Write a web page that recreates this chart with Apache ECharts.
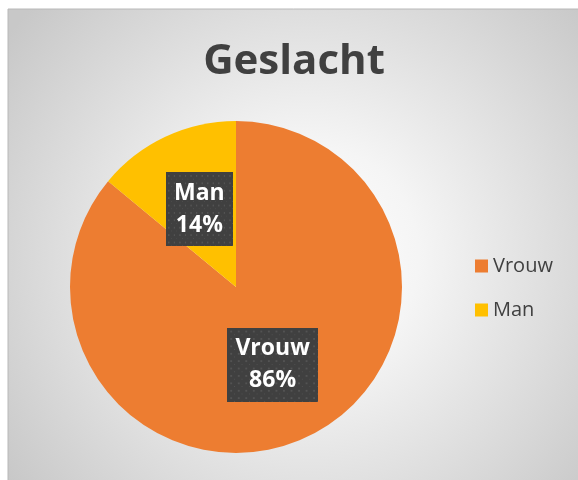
<!DOCTYPE html>
<html>
<head>
<meta charset="utf-8">
<style>
  html, body { margin: 0; padding: 0; background: #fff; }
  #chart { width: 578px; height: 480px; }
</style>
<script src="https://cdn.jsdelivr.net/npm/echarts@6/dist/echarts.min.js"></script>
</head>
<body>
<div id="chart"></div>
<script>
const titleText = 'Geslacht'
const categories = ['Vrouw', 'Man']
const values = [86, 14]
const colors = ['#ED7D31', '#FFC000']

// small dotted texture for the label boxes
const makeDots = (w, h) => {
  const c = document.createElement('canvas')
  c.width = w
  c.height = h
  const ctx = c.getContext('2d')
  ctx.fillStyle = '#404040'
  ctx.fillRect(0, 0, w, h)
  ctx.fillStyle = '#535353'
  for (let y = 3; y < h; y += 8) {
    for (let x = 3; x < w; x += 8) {
      ctx.fillRect(x, y, 2, 2)
      ctx.fillRect(x + 4, y + 4, 1, 1)
    }
  }
  return c
}

const chart = echarts.init(document.getElementById('chart'))

chart.setOption({
  backgroundColor: '#fff',
  color: colors,
  animation: false,
  graphic: [{
    type: 'rect',
    z: -10,
    silent: true,
    shape: { x: 8, y: 9, width: 575, height: 476 },
    style: {
      fill: new echarts.graphic.RadialGradient(0.52, 0.52, 0.78, [
        { offset: 0, color: '#ffffff' },
        { offset: 0.3, color: '#f5f5f5' },
        { offset: 1, color: '#c8c8c8' }
      ]),
      stroke: '#b8b8b8',
      lineWidth: 1
    }
  }],
  title: {
    text: titleText,
    left: 289,
    top: 36,
    textAlign: 'center',
    textStyle: {
      fontFamily: 'Open Sans',
      fontWeight: 'bold',
      fontSize: 42,
      color: '#404040'
    }
  },
  legend: {
    orient: 'vertical',
    left: 470,
    top: 251,
    icon: 'rect',
    itemWidth: 13,
    itemHeight: 13,
    itemGap: 24,
    data: categories,
    textStyle: {
      fontFamily: 'Open Sans',
      fontSize: 20,
      color: '#404040'
    }
  },
  series: [{
    type: 'pie',
    center: [236, 287],
    radius: 166,
    startAngle: 90,
    clockwise: true,
    label: {
      show: true,
      position: 'inside',
      formatter: '{b}\n{d}%',
      fontFamily: 'Open Sans',
      fontWeight: 'bold',
      fontSize: 23,
      lineHeight: 32,
      color: '#fff',
      backgroundColor: { image: makeDots(96, 80) },
      padding: [5, 8, 5, 8],
      shadowColor: 'rgba(0,0,0,0.55)',
      shadowBlur: 6,
      shadowOffsetX: 3,
      shadowOffsetY: 3
    },
    labelLine: { show: false },
    emphasis: { disabled: true },
    data: categories.map((name, i) => ({ name: name, value: values[i] }))
  }]
})
</script>
</body>
</html>
